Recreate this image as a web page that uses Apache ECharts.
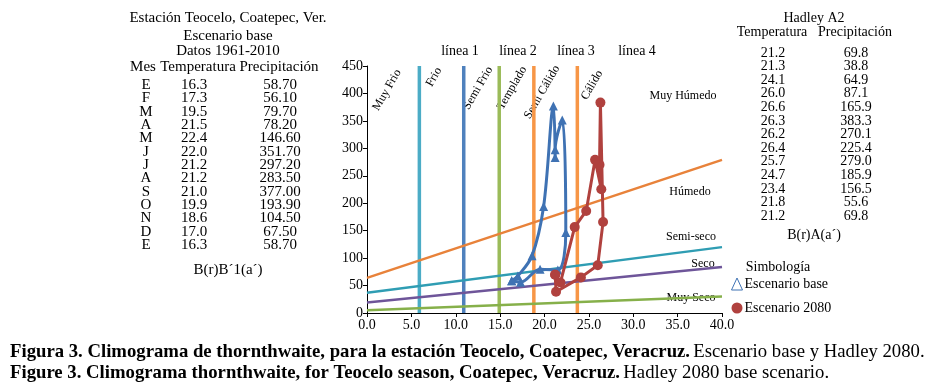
<!DOCTYPE html>
<html>
<head>
<meta charset="utf-8">
<script src="https://cdn.jsdelivr.net/npm/echarts@6/dist/echarts.min.js"></script>
<style>
  html, body { margin: 0; padding: 0; background: #fff; }
  #chart { width: 933px; height: 390px; }
</style>
</head>
<body>
<div id="chart"></div>
<script>
// meses del escenario base
const months = ['E', 'F', 'M', 'A', 'M', 'J', 'J', 'A', 'S', 'O', 'N', 'D', 'E'];
// Escenario base 1961-2010
const baseTemp = [16.3, 17.3, 19.5, 21.5, 22.4, 22.0, 21.2, 21.2, 21.0, 19.9, 18.6, 17.0, 16.3];
const basePrec = [58.70, 56.10, 79.70, 78.20, 146.60, 351.70, 297.20, 283.50, 377.00, 193.90, 104.50, 67.50, 58.70];
// Hadley A2 2080
const hadTemp = [21.2, 21.3, 24.1, 26.0, 26.6, 26.3, 26.2, 26.4, 25.7, 24.7, 23.4, 21.8, 21.2];
const hadPrec = [69.8, 38.8, 64.9, 87.1, 165.9, 383.3, 270.1, 225.4, 279.0, 185.9, 156.5, 55.6, 69.8];

// limites termicos (verticales)
const thermalX = [5.9, 10.9, 14.9, 18.8, 23.7];
const thermalColors = ['#4bacc6', '#4f81bd', '#9bbb59', '#f79646', '#f79646'];
const thermalNames = ['Muy Frio', 'Frio', 'Semi Frio', 'Templado', 'Semi Cálido', 'Cálido'];
const lineaNames = ['línea 1', 'línea 2', 'línea 3', 'línea 4'];

// limites de humedad (rectas de 0 a 40 grados)
const humidStart = [64, 37, 19, 5];
const humidEnd = [279, 120, 84, 30];
const humidColors = ['#e8823a', '#2f9db3', '#6e5599', '#86b04a'];
const humidNames = ['Muy Húmedo', 'Húmedo', 'Semi-seco', 'Seco', 'Muy Seco'];

const serif = '"Liberation Serif", "Times New Roman", serif';
const txt = (text, x, y, opt) => ({
  type: 'text',
  x, y,
  silent: true,
  rotation: (opt && opt.rotation) || 0,
  style: Object.assign({
    text, fill: '#000', font: '14px ' + serif,
    textAlign: 'center', textVerticalAlign: 'middle',
  }, (opt && opt.style) || {}),
});
const big = { style: { font: '15px ' + serif } };

const graphic = [];
// tabla izquierda
graphic.push(txt('Estación Teocelo, Coatepec, Ver.', 228, 18, big));
graphic.push(txt('Escenario base', 228, 36, big));
graphic.push(txt('Datos 1961-2010', 228, 51, big));
graphic.push(txt('Mes', 143, 67, big));
graphic.push(txt('Temperatura', 198, 67, big));
graphic.push(txt('Precipitación', 279, 67, big));
months.forEach((m, i) => {
  const y = 85 + i * 13.33;
  graphic.push(txt(m, 146, y, big));
  graphic.push(txt(baseTemp[i].toFixed(1), 194, y, big));
  graphic.push(txt(basePrec[i].toFixed(2), 280, y, big));
});
graphic.push(txt('B(r)B´1(a´)', 228, 270, big));

// tabla derecha
graphic.push(txt('Hadley A2', 814, 18));
graphic.push(txt('Temperatura', 772, 32));
graphic.push(txt('Precipitación', 855, 32));
hadTemp.forEach((t, i) => {
  const y = 53 + i * 13.6;
  graphic.push(txt(t.toFixed(1), 773, y));
  graphic.push(txt(hadPrec[i].toFixed(1), 856, y));
});
graphic.push(txt('B(r)A(a´)', 814, 235));

// etiquetas rotadas del grafico
const rotPos = [[387, 90], [434, 77], [478, 88], [512, 88], [542, 92], [592, 85]];
thermalNames.forEach((n, i) => {
  graphic.push(txt(n, rotPos[i][0], rotPos[i][1], { rotation: Math.PI / 3, style: { font: '12px ' + serif } }));
});
const lineaX = [460, 518, 576, 637];
lineaNames.forEach((n, i) => graphic.push(txt(n, lineaX[i], 51)));
const humPos = [[683, 96], [690, 192], [691, 237], [703, 264], [691, 298]];
humidNames.forEach((n, i) => {
  graphic.push(txt(n, humPos[i][0], humPos[i][1], { style: { font: '12px ' + serif } }));
});

// simbologia
graphic.push(txt('Simbología', 778, 267));

// pie de figura
const caption = (b, n, y) => ({
  type: 'text', x: 10, y, silent: true, scaleX: 0.985,
  style: {
    text: '{b|' + b + '} {n|' + n + '}',
    textVerticalAlign: 'middle',
    rich: {
      b: { font: 'bold 19px ' + serif, fill: '#000' },
      n: { font: '19px ' + serif, fill: '#000' },
    },
  },
});
graphic.push(caption('Figura 3. Climograma de thornthwaite, para la estación Teocelo, Coatepec, Veracruz.', 'Escenario base y Hadley 2080.', 352));
graphic.push(caption('Figure 3. Climograma thornthwaite, for Teocelo season, Coatepec, Veracruz.', 'Hadley 2080 base scenario.', 373));

const series = [];
thermalX.forEach((x, i) => {
  series.push({
    type: 'line', silent: true, symbol: 'none', z: 1,
    data: [[x, 0], [x, 450]],
    lineStyle: { color: thermalColors[i], width: 3.5 },
  });
});
humidStart.forEach((s, i) => {
  series.push({
    type: 'line', silent: true, symbol: 'none', z: 1,
    data: [[0, s], [40, humidEnd[i]]],
    lineStyle: { color: humidColors[i], width: 2.5 },
  });
});
series.push({
  name: 'Escenario base', type: 'line', smooth: 0.35, z: 3,
  data: baseTemp.map((t, i) => [t, basePrec[i]]),
  symbol: 'triangle', symbolSize: 9,
  lineStyle: { color: '#3f72b3', width: 3 },
  itemStyle: { color: '#3f72b3' },
});
series.push({
  name: 'Escenario 2080', type: 'line', z: 4,
  data: hadTemp.map((t, i) => [t, hadPrec[i]]),
  symbol: 'circle', symbolSize: 10,
  lineStyle: { color: '#b0413e', width: 3 },
  itemStyle: { color: '#b0413e' },
});

const chart = echarts.init(document.getElementById('chart'));
chart.setOption({
  animation: false,
  textStyle: { fontFamily: serif },
  grid: { left: 367, right: 211, top: 66, height: 247 },
  legend: {
    orient: 'vertical', left: 731, top: 277, padding: 0, itemGap: 10,
    itemWidth: 11, itemHeight: 12,
    textStyle: { fontFamily: serif, fontSize: 14, color: '#000', padding: [0, 0, 0, -3] },
    data: [
      { name: 'Escenario base', icon: 'triangle', itemStyle: { color: '#fff', borderColor: '#3f72b3', borderWidth: 1 } },
      { name: 'Escenario 2080', icon: 'circle', itemStyle: { color: '#b0413e' } },
    ],
  },
  xAxis: {
    type: 'value', min: 0, max: 40, interval: 5,
    axisLine: { show: true, lineStyle: { color: '#000', width: 1 } },
    axisTick: { show: true, length: 4, lineStyle: { color: '#000' } },
    splitLine: { show: false },
    axisLabel: { color: '#000', fontSize: 14, fontFamily: serif, margin: 5, formatter: v => v.toFixed(1) },
  },
  yAxis: {
    type: 'value', min: 0, max: 450, interval: 50,
    axisLine: { show: true, lineStyle: { color: '#000', width: 1 } },
    axisTick: { show: true, length: 4, lineStyle: { color: '#000' } },
    splitLine: { show: false },
    axisLabel: { color: '#000', fontSize: 14, fontFamily: serif, margin: 4 },
  },
  series,
  graphic,
});
</script>
</body>
</html>
